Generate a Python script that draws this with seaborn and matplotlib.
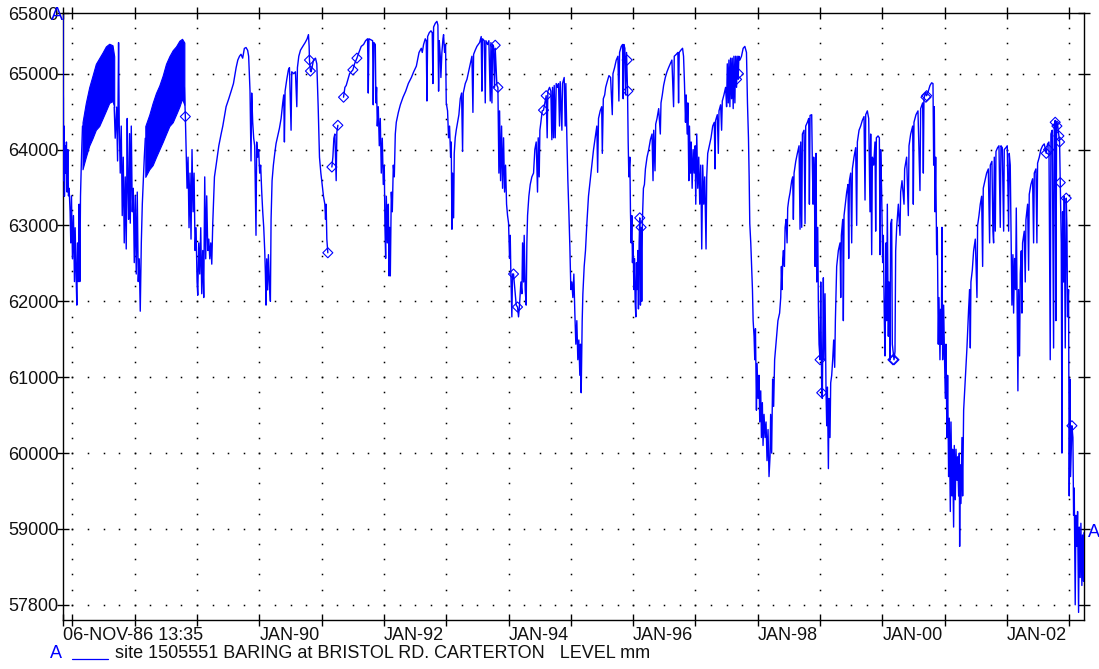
import numpy as np
import pandas as pd
import matplotlib
matplotlib.use("Agg")
import matplotlib.pyplot as plt
from matplotlib.lines import Line2D
import seaborn as sns

# ---------------- data (decimal year, level mm) ----------------
seg_1986 = [
    (1986.849, 65770), (1986.851, 64820), (1986.854, 64670), (1986.857, 63590), (1986.866, 64310),
    (1986.871, 63385), (1986.882, 64050), (1986.893, 63690), (1986.903, 64100), (1986.914, 63440),
    (1986.925, 64000), (1986.936, 63390), (1986.946, 63490), (1986.962, 63180), (1986.973, 62770),
    (1986.984, 63390), (1987.000, 62560), (1987.016, 63130), (1987.032, 62260), (1987.043, 62970),
    (1987.059, 62310), (1987.070, 61950), (1987.080, 62770), (1987.097, 62260), (1987.107, 63280),
    (1987.118, 62260), (1987.129, 63390), (1987.145, 63900), (1987.161, 64310),
]

band1_years = [1987.161, 1987.214, 1987.268, 1987.322, 1987.375, 1987.429, 1987.483, 1987.536,
               1987.590, 1987.643, 1987.670]
band1_upper = [64360, 64615, 64820, 64975, 65130, 65205, 65280, 65360, 65395, 65375, 65230]
band1_lower = [63740, 63900, 64050, 64150, 64260, 64310, 64410, 64510, 64615, 64640, 64560]

seg_1987 = [
    (1987.670, 64560), (1987.686, 64150), (1987.708, 64560), (1987.724, 63850), (1987.740, 65410),
    (1987.751, 64310), (1987.767, 63690), (1987.783, 64310), (1987.799, 63130), (1987.815, 63900),
    (1987.831, 62770), (1987.847, 63640), (1987.863, 62690), (1987.879, 64410), (1987.890, 63540),
    (1987.901, 63080), (1987.917, 64210), (1987.928, 63030), (1987.944, 64310), (1987.960, 63180),
    (1987.976, 63490), (1987.992, 62510), (1988.008, 63390), (1988.024, 62360), (1988.040, 63440),
    (1988.056, 62260), (1988.072, 62560), (1988.088, 61870), (1988.105, 62770), (1988.121, 63280),
    (1988.137, 63590), (1988.153, 63900), (1988.169, 64150),
]

band2_years = [1988.169, 1988.233, 1988.287, 1988.340, 1988.394, 1988.448, 1988.501, 1988.555,
               1988.609, 1988.662, 1988.716, 1988.759, 1988.796]
band2_upper = [64310, 64460, 64615, 64745, 64845, 64975, 65130, 65230, 65310, 65360, 65435, 65460, 65410]
band2_lower = [63640, 63740, 63795, 63900, 64000, 64100, 64205, 64310, 64360, 64460, 64565, 64670, 64590]

seg_1988 = [
    (1988.796, 64820), (1988.812, 64435), (1988.823, 64050), (1988.839, 63490), (1988.855, 63900),
    (1988.871, 62970), (1988.887, 63690), (1988.903, 62820), (1988.919, 64000), (1988.936, 63180),
    (1988.952, 63690), (1988.968, 62670), (1988.984, 62970), (1989.000, 62260), (1989.011, 62080),
    (1989.027, 62770), (1989.043, 62360), (1989.059, 62970), (1989.075, 62100), (1989.091, 62670),
    (1989.107, 62050), (1989.123, 63640), (1989.139, 62560), (1989.155, 63390), (1989.172, 62670),
    (1989.188, 62820), (1989.204, 62560), (1989.220, 62770), (1989.236, 62490), (1989.252, 63030),
    (1989.279, 63640), (1989.306, 63795), (1989.349, 64050), (1989.386, 64205), (1989.413, 64310),
    (1989.466, 64565), (1989.509, 64670), (1989.547, 64770), (1989.584, 64870), (1989.627, 65080),
    (1989.654, 65180), (1989.681, 65230), (1989.705, 65256), (1989.732, 65205), (1989.759, 65333),
    (1989.786, 65345), (1989.812, 65308), (1989.828, 65230), (1989.850, 64770), (1989.866, 63850),
    (1989.877, 64745), (1989.893, 64360), (1989.909, 64150), (1989.925, 64050), (1989.946, 62870),
    (1989.957, 64100), (1989.973, 63900), (1989.989, 64000), (1990.005, 63690), (1990.021, 63795),
    (1990.038, 63440), (1990.054, 63180), (1990.070, 62975), (1990.086, 62670), (1990.097, 62360),
    (1990.107, 61950), (1990.118, 62560), (1990.134, 62150), (1990.145, 62615), (1990.161, 62260),
    (1990.177, 62000), (1990.188, 63080), (1990.204, 63590), (1990.225, 63795), (1990.247, 63950),
    (1990.268, 64080), (1990.295, 64180), (1990.322, 64280), (1990.349, 64410), (1990.375, 64615),
    (1990.391, 64720), (1990.402, 64100), (1990.413, 64770), (1990.440, 64925), (1990.466, 65050),
    (1990.483, 65080), (1990.509, 64255), (1990.520, 65025), (1990.552, 65000), (1990.579, 65025),
    (1990.601, 64565), (1990.611, 65080), (1990.633, 65230), (1990.660, 65310), (1990.697, 65360),
    (1990.735, 65410), (1990.767, 65460), (1990.788, 65515), (1990.799, 65360), (1990.804, 65180),
    (1990.820, 65035), (1990.831, 65025), (1990.869, 65180), (1990.901, 65205), (1990.922, 65130),
    (1990.944, 64565), (1990.965, 63900), (1990.987, 63690), (1991.008, 63540), (1991.029, 63385),
    (1991.051, 63280), (1991.062, 63080), (1991.072, 63280), (1991.083, 62820), (1991.099, 62640),
]

seg_1991a = [
    (1991.164, 63770), (1991.180, 63900), (1991.196, 64150), (1991.212, 64205), (1991.233, 63590),
    (1991.244, 64230), (1991.260, 64320),
]

seg_1991b = [
    (1991.351, 64690), (1991.373, 64820), (1991.394, 64845), (1991.421, 64925), (1991.448, 65000),
    (1991.501, 65050), (1991.528, 65130), (1991.566, 65205), (1991.598, 65280), (1991.635, 65360),
    (1991.673, 65385), (1991.705, 65435), (1991.737, 65460), (1991.748, 64745), (1991.759, 65460),
    (1991.796, 65445), (1991.818, 65435), (1991.828, 64590), (1991.839, 65410), (1991.861, 65385),
    (1991.871, 64615), (1991.882, 64820), (1991.893, 64310), (1991.909, 64565), (1991.925, 64050),
    (1991.941, 64410), (1991.957, 63690), (1991.973, 64150), (1991.989, 63540), (1992.005, 63795),
    (1992.016, 62975), (1992.027, 62565), (1992.038, 63385), (1992.054, 62770), (1992.070, 63280),
    (1992.081, 62335), (1992.091, 62975), (1992.102, 62335), (1992.118, 63440), (1992.134, 63180),
    (1992.150, 63795), (1992.166, 63640), (1992.182, 64205), (1992.198, 64360), (1992.231, 64490),
    (1992.263, 64590), (1992.306, 64690), (1992.349, 64770), (1992.391, 64870), (1992.440, 64950),
    (1992.477, 65025), (1992.520, 65100), (1992.563, 65280),
]

seg_1992 = [
    (1992.599, 65335), (1992.615, 65280), (1992.636, 65385), (1992.663, 65460), (1992.679, 65435),
    (1992.690, 64640), (1992.701, 65490), (1992.727, 65540), (1992.754, 65565), (1992.775, 65540),
    (1992.786, 64870), (1992.797, 65615), (1992.824, 65665), (1992.850, 65690), (1992.866, 65640),
    (1992.877, 64770), (1992.888, 65435), (1992.904, 65230), (1992.914, 64950), (1992.930, 65280),
    (1992.947, 65460), (1992.957, 65515), (1992.973, 65280), (1992.989, 65385), (1993.000, 64615),
    (1993.021, 64510), (1993.037, 64155), (1993.053, 64310), (1993.070, 63900), (1993.080, 64100),
    (1993.091, 62950), (1993.102, 63690), (1993.118, 63100), (1993.128, 63950), (1993.144, 64155),
    (1993.160, 64255), (1993.182, 64360), (1993.203, 64460), (1993.225, 64670), (1993.246, 64745),
    (1993.262, 63975), (1993.273, 64745), (1993.305, 64870), (1993.332, 64925), (1993.358, 65025),
    (1993.385, 65130), (1993.412, 65230), (1993.428, 64490), (1993.439, 65255), (1993.465, 65310),
    (1993.492, 65360), (1993.535, 65410), (1993.561, 65490), (1993.572, 64770), (1993.583, 65460),
    (1993.610, 65435), (1993.626, 64615), (1993.636, 65435), (1993.663, 65385), (1993.684, 65435),
    (1993.706, 64640), (1993.717, 65410), (1993.733, 64615), (1993.743, 65385), (1993.759, 65360),
    (1993.775, 64820), (1993.786, 65335), (1993.813, 64845), (1993.829, 64820), (1993.845, 63690),
    (1993.856, 64510), (1993.872, 63590), (1993.888, 64310), (1993.904, 63490), (1993.920, 64155),
    (1993.936, 63440), (1993.952, 63795), (1993.968, 63280), (1993.984, 63130), (1994.000, 63030),
    (1994.016, 62565), (1994.027, 62870), (1994.037, 62360), (1994.053, 61795), (1994.064, 62360),
    (1994.080, 62360), (1994.102, 62155), (1994.123, 61950), (1994.144, 61925), (1994.160, 61795),
    (1994.176, 61950), (1994.198, 62255), (1994.214, 62100), (1994.225, 62770), (1994.241, 62255),
    (1994.251, 62870), (1994.267, 62155), (1994.283, 61950), (1994.294, 62770), (1994.305, 63130),
    (1994.326, 63385), (1994.348, 63540), (1994.374, 63640), (1994.401, 63690), (1994.422, 64000),
    (1994.444, 64100), (1994.465, 63440), (1994.476, 64155), (1994.492, 63640), (1994.503, 64255),
    (1994.519, 64360), (1994.540, 64510), (1994.561, 64520), (1994.583, 64615), (1994.604, 64710),
    (1994.620, 64155), (1994.631, 64770), (1994.658, 64820), (1994.679, 64770), (1994.695, 64130),
    (1994.706, 64820), (1994.722, 64155), (1994.733, 64845), (1994.749, 64155), (1994.765, 64870),
    (1994.786, 64820), (1994.802, 64870), (1994.818, 64310), (1994.829, 64895), (1994.856, 64255),
    (1994.866, 64870), (1994.893, 64950), (1994.909, 64310), (1994.920, 64870), (1994.936, 64155),
    (1994.952, 63590), (1994.968, 63180), (1994.984, 62720), (1995.000, 62155), (1995.016, 62255),
    (1995.032, 62050), (1995.048, 62360), (1995.064, 61845), (1995.080, 61435), (1995.096, 61745),
    (1995.112, 61230), (1995.128, 61490), (1995.144, 61025), (1995.155, 61435), (1995.166, 60795),
    (1995.182, 61745), (1995.193, 62100), (1995.214, 62460), (1995.235, 62670), (1995.257, 63025),
    (1995.283, 63385), (1995.310, 63590), (1995.337, 63795), (1995.364, 64000), (1995.390, 64155),
    (1995.417, 64310), (1995.430, 63700), (1995.444, 64410), (1995.471, 64510),
]

seg_1995 = [
    (1995.495, 64565), (1995.505, 63950), (1995.521, 64670), (1995.543, 64720), (1995.559, 64820),
    (1995.585, 64900), (1995.612, 64975), (1995.638, 64950), (1995.665, 64460), (1995.676, 65000),
    (1995.702, 65080), (1995.729, 65180), (1995.755, 65230), (1995.771, 64640), (1995.782, 65280),
    (1995.809, 65360), (1995.830, 65385), (1995.840, 64670), (1995.851, 65385), (1995.867, 65335),
    (1995.878, 64720), (1995.894, 65280), (1995.910, 64770), (1995.920, 64100), (1995.931, 63640),
    (1995.947, 63900), (1995.957, 63180), (1995.968, 62770), (1995.979, 63130), (1995.989, 62510),
    (1996.000, 62770), (1996.011, 62155), (1996.021, 62565), (1996.032, 62000), (1996.043, 61795),
    (1996.053, 62510), (1996.064, 62155), (1996.074, 62670), (1996.085, 61900), (1996.096, 62770),
    (1996.106, 63100), (1996.117, 61950), (1996.128, 62975), (1996.138, 62000), (1996.149, 63080),
    (1996.165, 63490), (1996.181, 63540), (1996.197, 63745), (1996.223, 63900), (1996.250, 64000),
    (1996.277, 64130), (1996.303, 64205), (1996.319, 63590), (1996.330, 64255), (1996.351, 63720),
    (1996.362, 64335), (1996.383, 64410), (1996.410, 64540), (1996.436, 64205), (1996.447, 64615),
    (1996.468, 64720), (1996.489, 64845), (1996.516, 64950), (1996.543, 65025), (1996.569, 65080),
    (1996.596, 65130), (1996.622, 65180), (1996.649, 64565), (1996.660, 65230), (1996.692, 65255),
    (1996.718, 65280), (1996.729, 64615), (1996.739, 65280), (1996.766, 65310), (1996.793, 65335),
    (1996.809, 65230), (1996.824, 64870), (1996.840, 64360), (1996.851, 64720), (1996.867, 64205),
    (1996.878, 64615), (1996.894, 63590), (1996.904, 64310), (1996.920, 63690), (1996.931, 64100),
    (1996.947, 63490), (1996.963, 64000), (1996.979, 63690), (1996.995, 64050), (1997.005, 63280),
    (1997.021, 64205), (1997.037, 63490), (1997.053, 63900), (1997.069, 63280), (1997.085, 63795),
    (1997.101, 62690), (1997.117, 63795), (1997.133, 63280), (1997.149, 63640), (1997.170, 62690),
    (1997.181, 63640), (1997.197, 63950), (1997.223, 64050), (1997.250, 64155), (1997.277, 64310),
    (1997.303, 64360), (1997.314, 63745), (1997.324, 64385), (1997.351, 64460), (1997.367, 63950),
    (1997.378, 64510), (1997.404, 64590), (1997.420, 64255), (1997.431, 64640), (1997.457, 64720),
    (1997.484, 64820), (1997.500, 64565), (1997.511, 65130), (1997.527, 64615), (1997.537, 65180),
    (1997.553, 64565), (1997.564, 65205), (1997.580, 64670), (1997.590, 65205), (1997.606, 64540),
    (1997.617, 65230), (1997.633, 64615), (1997.644, 65230), (1997.660, 64820), (1997.670, 65230),
    (1997.686, 64925), (1997.697, 65230), (1997.713, 65180), (1997.739, 65230), (1997.766, 65335),
    (1997.793, 65360), (1997.819, 65280), (1997.835, 64615), (1997.851, 64155), (1997.862, 63640),
    (1997.872, 63025), (1997.888, 62770), (1997.899, 62510), (1997.915, 62155), (1997.926, 61745),
    (1997.941, 61540), (1997.952, 61230), (1997.963, 61640), (1997.979, 60565), (1997.989, 61180),
    (1998.005, 60720), (1998.021, 61025), (1998.032, 60410), (1998.048, 60820), (1998.059, 60205),
    (1998.074, 60665), (1998.085, 60100), (1998.101, 60510), (1998.117, 60205), (1998.133, 60410),
    (1998.149, 59900), (1998.165, 60310), (1998.181, 59690), (1998.197, 59950), (1998.207, 60510),
    (1998.223, 60000), (1998.239, 60975), (1998.255, 60615), (1998.271, 61230), (1998.298, 61490),
    (1998.324, 61745), (1998.351, 61845),
]

seg_1998 = [
    (1998.369, 62050), (1998.380, 62460), (1998.390, 62155), (1998.401, 62565), (1998.412, 62670),
    (1998.428, 62460), (1998.439, 62975), (1998.455, 63080), (1998.471, 62770), (1998.481, 63230),
    (1998.497, 63335), (1998.519, 63435), (1998.545, 63590), (1998.561, 63640), (1998.572, 63080),
    (1998.583, 63690), (1998.610, 63845), (1998.636, 63950), (1998.663, 64050), (1998.679, 62950),
    (1998.690, 64100), (1998.706, 62975), (1998.717, 64205), (1998.743, 64255), (1998.759, 63025),
    (1998.770, 64310), (1998.797, 64360), (1998.818, 64410), (1998.829, 63280), (1998.840, 64450),
    (1998.866, 64460), (1998.877, 63795), (1998.888, 63280), (1998.898, 63900), (1998.909, 63690),
    (1998.920, 62460), (1998.930, 63795), (1998.936, 63950), (1998.947, 62255), (1998.963, 62975),
    (1998.973, 61950), (1998.984, 61435), (1999.000, 61230), (1999.011, 62255), (1999.021, 61230),
    (1999.027, 60795), (1999.037, 60720), (1999.053, 62310), (1999.064, 61230), (1999.080, 62100),
    (1999.096, 60820), (1999.107, 60360), (1999.118, 60870), (1999.134, 59795), (1999.144, 60720),
    (1999.160, 60205), (1999.171, 60925), (1999.187, 61025), (1999.203, 61230), (1999.219, 61490),
    (1999.235, 61130), (1999.246, 61745), (1999.267, 62460), (1999.294, 62670), (1999.321, 62770),
    (1999.332, 62050), (1999.342, 62870), (1999.364, 63080), (1999.374, 61745), (1999.385, 63130),
    (1999.406, 63280), (1999.428, 63440), (1999.449, 63540), (1999.460, 62565), (1999.471, 63590),
    (1999.492, 63690), (1999.508, 62770), (1999.519, 63745), (1999.545, 63900), (1999.572, 64025),
    (1999.588, 63000), (1999.599, 64100), (1999.626, 64255), (1999.652, 64310), (1999.679, 64385),
    (1999.706, 64435), (1999.722, 63335), (1999.733, 64460), (1999.759, 64510), (1999.781, 64410),
    (1999.802, 63180), (1999.813, 64205), (1999.829, 62615), (1999.840, 63900), (1999.861, 63795),
    (1999.882, 64100), (1999.893, 62925), (1999.904, 64155), (1999.931, 64180), (1999.952, 64155),
    (1999.963, 62615), (1999.973, 64000), (1999.989, 63440), (2000.005, 62510), (2000.016, 62870),
    (2000.032, 61745), (2000.043, 61280), (2000.059, 62770), (2000.070, 61745), (2000.080, 63280),
    (2000.096, 61540), (2000.107, 62255), (2000.123, 61230), (2000.134, 63025), (2000.150, 63080),
    (2000.160, 61435), (2000.187, 61230), (2000.203, 61335), (2000.214, 62665), (2000.230, 62975),
    (2000.257, 63280), (2000.283, 62870), (2000.294, 63440), (2000.316, 63590), (2000.348, 63280),
    (2000.358, 63745), (2000.390, 63900), (2000.417, 63130), (2000.428, 64050), (2000.455, 64205),
    (2000.487, 64310), (2000.497, 63280), (2000.508, 64360), (2000.540, 64460), (2000.572, 64510),
    (2000.604, 63460), (2000.615, 64540), (2000.647, 64615), (2000.658, 63690), (2000.668, 64670),
    (2000.690, 64745), (2000.711, 64710), (2000.738, 64770), (2000.765, 64845), (2000.791, 64880),
    (2000.813, 64870), (2000.824, 63795), (2000.834, 64565), (2000.845, 63180), (2000.856, 63900),
    (2000.872, 62615), (2000.882, 62975), (2000.898, 61435), (2000.909, 62050), (2000.925, 61230),
    (2000.936, 61895),
]

seg_2000 = [
    (2000.946, 61435), (2000.957, 62975), (2000.968, 61230), (2000.984, 61950), (2000.995, 61385),
    (2001.011, 60720), (2001.021, 61435), (2001.037, 60205), (2001.048, 61025), (2001.064, 59690),
    (2001.075, 60460), (2001.091, 59230), (2001.102, 60410), (2001.118, 59435), (2001.128, 60050),
    (2001.144, 59025), (2001.155, 60100), (2001.171, 59385), (2001.182, 60050), (2001.198, 59640),
    (2001.209, 59950), (2001.225, 59435), (2001.235, 60000), (2001.241, 58770), (2001.249, 59845),
    (2001.262, 59335), (2001.278, 60205), (2001.289, 59435), (2001.305, 60565), (2001.332, 60975),
    (2001.358, 61385), (2001.385, 61900), (2001.401, 62155), (2001.412, 61385), (2001.422, 62255),
    (2001.444, 62410), (2001.465, 62665), (2001.492, 62820), (2001.519, 62050), (2001.529, 63000),
    (2001.551, 63130), (2001.572, 63280), (2001.594, 63385), (2001.610, 62460), (2001.620, 63490),
    (2001.647, 63590), (2001.674, 63690), (2001.701, 63745), (2001.722, 62770), (2001.733, 63795),
    (2001.759, 63845), (2001.775, 62925), (2001.786, 62770), (2001.797, 63900), (2001.813, 62925),
    (2001.824, 63975), (2001.850, 64025), (2001.872, 64050), (2001.893, 62975), (2001.904, 64050),
    (2001.925, 64025), (2001.947, 62925), (2001.957, 64000), (2001.984, 64025), (2002.005, 64050),
    (2002.027, 62925), (2002.037, 63950), (2002.053, 63795), (2002.070, 62565), (2002.080, 61950),
    (2002.096, 62615), (2002.107, 61845), (2002.123, 62565), (2002.139, 62155), (2002.150, 63230),
    (2002.160, 62255), (2002.176, 60820), (2002.187, 62155), (2002.203, 61280), (2002.214, 62360),
    (2002.230, 62665), (2002.241, 61845), (2002.251, 62770), (2002.278, 62925), (2002.294, 62255),
    (2002.305, 63075), (2002.332, 63280), (2002.348, 62410), (2002.358, 63410), (2002.385, 63540),
    (2002.412, 63615), (2002.428, 62770), (2002.439, 63690), (2002.465, 63745), (2002.481, 62770),
    (2002.492, 63820), (2002.519, 63900), (2002.545, 64000), (2002.572, 64050), (2002.599, 64075),
    (2002.631, 63950), (2002.652, 64075), (2002.674, 64100), (2002.695, 61230), (2002.706, 64205),
    (2002.727, 64255), (2002.749, 61385), (2002.759, 64310), (2002.775, 64385), (2002.786, 61745),
    (2002.797, 64360), (2002.813, 64335), (2002.834, 64180), (2002.845, 64100), (2002.856, 63565),
    (2002.872, 62770), (2002.883, 60000), (2002.893, 63180), (2002.909, 62255), (2002.920, 63385),
    (2002.936, 61385), (2002.952, 63360), (2002.963, 62975), (2002.973, 61795), (2002.989, 62155),
    (2003.000, 59435), (2003.011, 60975), (2003.021, 59690), (2003.043, 60360), (2003.059, 60205),
    (2003.070, 59180), (2003.080, 59540), (2003.096, 58000), (2003.107, 59180), (2003.123, 58770),
    (2003.134, 59230), (2003.150, 57900), (2003.160, 59025), (2003.176, 58360), (2003.187, 59075),
    (2003.203, 58255), (2003.214, 58920), (2003.230, 58310), (2003.236, 58950),
]

# continuous pieces (gaps between them are gaps in the record)
pieces = [seg_1986, seg_1987, seg_1988, seg_1991a,
          seg_1991b + seg_1992 + seg_1995 + seg_1998 + seg_2000]

# diamond-flagged readings
flag_years = [1988.812, 1990.804, 1990.820, 1991.099, 1991.164, 1991.260, 1991.351, 1991.501,
              1991.566, 1993.786, 1993.829, 1994.080, 1994.144, 1994.561, 1994.604, 1995.904,
              1995.915, 1996.106, 1996.128, 1997.660, 1997.690, 1999.000, 1999.027, 2000.170,
              2000.187, 2000.700, 2000.711, 2002.631, 2002.668, 2002.775, 2002.802, 2002.834,
              2002.845, 2002.856, 2002.952, 2003.043]
flag_levels = [64435, 65180, 65035, 62640, 63770, 64320, 64690, 65050,
               65205, 65375, 64820, 62360, 61925, 64520, 64710, 65180,
               64770, 63100, 62975, 64925, 65000, 61230, 60795, 61230,
               61230, 64690, 64710, 63950, 64000, 64360, 64310, 64180,
               64100, 63565, 63360, 60360]

y_ticks = [58000, 59000, 60000, 61000, 62000, 63000, 64000, 65000, 65800]
y_labels = ["57800", "59000", "60000", "61000", "62000", "63000", "64000", "65000", "65800"]
start_label = "06-NOV-86 13:35"
legend_text = "site 1505551 BARING at BRISTOL RD. CARTERTON   LEVEL mm"

# ---------------- plotting ----------------
sns.set_style("white")
plt.rcParams['font.family'] = ['Liberation Sans', 'DejaVu Sans']
BLUE = "#0000ff"
FS = 13

W, H = 1099, 669
fig = plt.figure(figsize=(W / 100, H / 100), dpi=100)
ax = fig.add_axes([63 / W, 1 - 620 / H, 1021 / W, 607 / H])

x0, x1 = 1986.848, 2003.237
y0, y1 = 57800, 65800
ax.set_xlim(x0, x1)
ax.set_ylim(y0, y1)

# dotted grid (dots along year lines every 200 mm, along 1000-mm lines every quarter year)
years = np.arange(1987, 2004)
col_vals = np.arange(58000, 65601, 200)
gx, gy = np.meshgrid(years, col_vals)
ax.plot(gx.ravel(), gy.ravel(), ls="none", marker="s", ms=1.1, mew=0, color="black", zorder=1)
q = np.arange(1987.0, x1, 0.25)
rows_v = np.arange(58000, 65001, 1000)
rx, ry = np.meshgrid(q, rows_v)
ax.plot(rx.ravel(), ry.ravel(), ls="none", marker="s", ms=1.1, mew=0, color="black", zorder=1)

# dense pumping bands
for yrs, lo, hi in [(band1_years, band1_lower, band1_upper), (band2_years, band2_lower, band2_upper)]:
    ax.fill_between(yrs, lo, hi, color=BLUE, lw=0.8, edgecolor=BLUE, zorder=2)

rows = []
for i, p in enumerate(pieces):
    for t, v in p:
        rows.append((i, t, v))
df = pd.DataFrame(rows, columns=["piece", "year", "level"])
sns.lineplot(data=df, x="year", y="level", units="piece", estimator=None, sort=False,
             color=BLUE, lw=1.0, ax=ax, legend=False, zorder=3)

sns.scatterplot(x=flag_years, y=flag_levels, marker="D", s=26, facecolors="none",
                edgecolors=BLUE, linewidths=0.8, ax=ax, legend=False, zorder=4)

# start / end series labels
first_t, first_v = seg_1986[0]
last_t, last_v = seg_2000[-1]
ax.annotate("A", xy=(first_t, first_v), xytext=(-6, 0), textcoords="offset pixels",
            ha="center", va="center", color=BLUE, fontsize=FS, annotation_clip=False, zorder=5)
ax.annotate("A", xy=(last_t, last_v), xytext=(10, 0), textcoords="offset pixels",
            ha="center", va="center", color=BLUE, fontsize=FS, annotation_clip=False, zorder=5)

# axes styling
ax.set_xlabel("")
ax.set_ylabel("")
for s in ax.spines.values():
    s.set_visible(True)
    s.set_color("black")
    s.set_linewidth(1.0)

xt = [x0] + list(years)
xl = [start_label] + [f"JAN-{y % 100:02d}" if (y % 2 == 0 and y >= 1990) else "" for y in years]
ax.set_xticks(xt)
ax.set_xticklabels(xl)
for lbl in ax.get_xticklabels():
    lbl.set_ha("left")
ax.set_yticks(y_ticks)
ax.set_yticklabels(y_labels)
ax.tick_params(axis="both", which="major", direction="inout", length=8, width=1.0,
               color="black", labelsize=FS, labelcolor="#111111",
               top=True, right=True, bottom=True, left=True,
               labeltop=False, labelright=False)
ax.tick_params(axis="x", pad=1)
ax.tick_params(axis="y", pad=-1)

# legend line at the bottom
yl = 1 - 653 / H
fig.text(56 / W, yl, "A", color=BLUE, ha="center", va="center", fontsize=FS)
fig.add_artist(Line2D([72 / W, 108 / W], [1 - 659 / H] * 2, color=BLUE, lw=0.9))
fig.text(115 / W, yl, legend_text, color="#111111", ha="left", va="center", fontsize=FS)

fig.savefig("out.png", dpi=100)
